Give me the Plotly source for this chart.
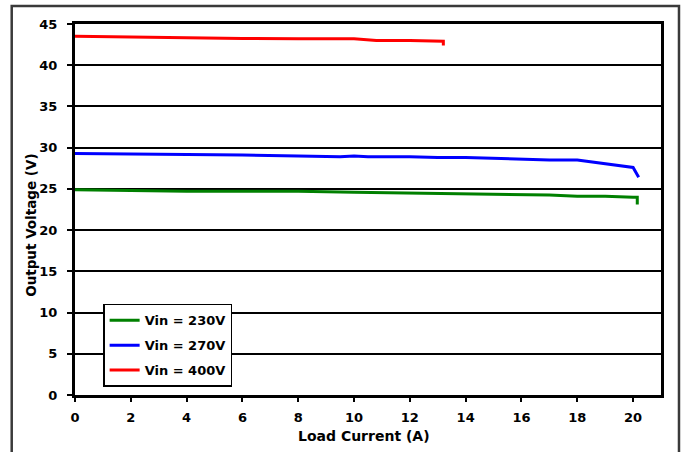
import plotly.graph_objects as go

# Data
x_230 = [0, 2, 4, 6, 8, 10, 12, 14, 16, 17, 18, 19, 20, 20.15, 20.15]
v_230 = [24.9, 24.8, 24.7, 24.7, 24.7, 24.6, 24.5, 24.4, 24.3, 24.25, 24.1, 24.1, 24.0, 24.0, 23.1]

x_270 = [0, 2, 4, 6, 8, 9.5, 10, 10.5, 12, 13, 14, 16, 17, 18, 20, 20.2]
v_270 = [29.3, 29.25, 29.2, 29.1, 29.0, 28.9, 29.0, 28.9, 28.9, 28.8, 28.8, 28.6, 28.5, 28.5, 27.6, 26.4]

x_400 = [0, 2, 4, 6, 8, 10, 10.8, 12, 13.2, 13.2]
v_400 = [43.5, 43.4, 43.3, 43.25, 43.2, 43.2, 43.0, 43.0, 42.9, 42.4]

series_names = ["Vin = 230V", "Vin = 270V", "Vin = 400V"]
series_colors = ["#008000", "#0000FF", "#FF0000"]

x_ticks = list(range(0, 21, 2))
y_ticks = list(range(0, 46, 5))

x_title = "Load Current (A)"
y_title = "Output Voltage (V)"

FONT = "DejaVu Sans, Liberation Sans, Arial, sans-serif"

fig = go.Figure()
for xs, ys, name, col, grp in zip([x_230, x_270, x_400], [v_230, v_270, v_400],
                                  series_names, series_colors, ["a", "b", "c"]):
    fig.add_trace(go.Scatter(x=xs, y=ys, mode="lines", name=name, legendgroup=grp,
                             line=dict(color=col, width=3)))

fig.update_layout(
    width=689, height=452,
    margin=dict(l=75, r=28, t=24, b=57),
    paper_bgcolor="white", plot_bgcolor="white",
    font=dict(family=FONT, color="black"),
    showlegend=True,
    legend=dict(x=0.048, y=0.022, xanchor="left", yanchor="bottom",
                bgcolor="white", bordercolor="black", borderwidth=1.5,
                font=dict(family=FONT, size=13, color="black", weight="bold"),
                tracegroupgap=5, itemwidth=30),
    xaxis=dict(range=[0, 21], tickvals=x_ticks, ticks="outside", ticklen=4, tickwidth=2,
               tickcolor="black", showgrid=False, zeroline=False,
               showline=True, linecolor="black", linewidth=3, mirror=True,
               ticklabelstandoff=4,
               tickfont=dict(family=FONT, size=13, weight="bold")),
    yaxis=dict(range=[0, 45], tickvals=y_ticks, ticks="outside", ticklen=5, tickwidth=2,
               tickcolor="black", showgrid=True, gridcolor="black", gridwidth=2,
               zeroline=False, showline=True, linecolor="black", linewidth=3, mirror=True,
               ticklabelstandoff=7,
               tickfont=dict(family=FONT, size=13, weight="bold")),
)

# Axis titles placed as in the reference
fig.add_annotation(text=x_title, xref="paper", yref="paper", x=0.493, y=-0.111,
                   xanchor="center", yanchor="middle", showarrow=False,
                   font=dict(family=FONT, size=14, weight="bold", color="black"))
fig.add_annotation(text=y_title, xref="paper", yref="paper", x=-0.0755, y=0.458,
                   xanchor="center", yanchor="middle", showarrow=False, textangle=-90,
                   font=dict(family=FONT, size=13.5, weight="bold", color="black"))

# Outer frame around the chart
fig.add_shape(type="rect", xref="paper", yref="paper",
              x0=-0.108, x1=1.0307, y0=-0.2, y1=1.0485,
              line=dict(color="#3a3a3a", width=2.5), fillcolor="rgba(0,0,0,0)", layer="below")

# remove the browser's default page margin so the figure sits at the window origin
fig.write_html("out.html", config={"displayModeBar": False},
               post_script="document.body.style.margin='0px';")
